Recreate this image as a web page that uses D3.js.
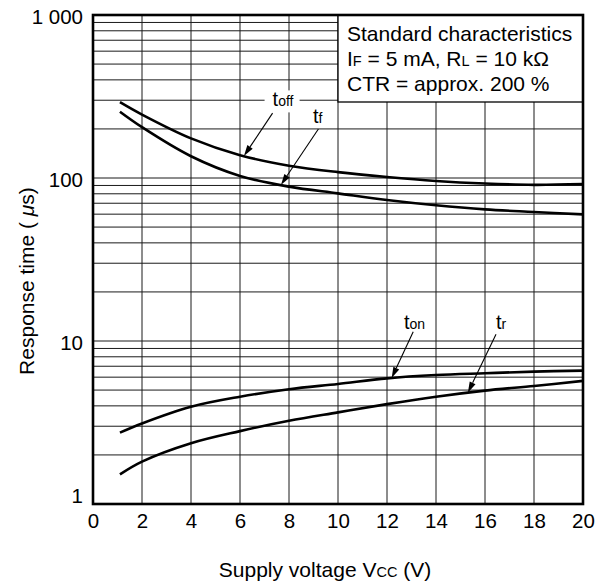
<!DOCTYPE html>
<html>
<head>
<meta charset="utf-8">
<script src="https://cdn.jsdelivr.net/npm/d3@7"></script>
<style>
    body { margin: 0; background: #ffffff; }
    svg { font-family: "Liberation Sans", Arial, sans-serif; }
</style>
</head>
<body>
<svg id="response-chart" width="605" height="585"></svg>
<script>
// supply voltage (V) and response times (us)
const vcc = [1.1, 2, 4, 6, 8, 10, 12, 14, 16, 18, 20];
const tOff = [292, 245, 175, 138, 119, 108.6, 101.4, 95.9, 92.5, 90.8, 91.8];
const tF = [255, 205, 136, 103, 88.5, 80.5, 73.3, 68, 64.2, 61.9, 59.8];
const tOn = [2.74, 3.12, 3.95, 4.55, 5.06, 5.45, 5.9, 6.18, 6.34, 6.49, 6.58];
const tR = [1.52, 1.82, 2.36, 2.80, 3.24, 3.65, 4.10, 4.55, 4.96, 5.30, 5.69];

const xTicks = [0, 2, 4, 6, 8, 10, 12, 14, 16, 18, 20];
const yTicks = [1, 10, 100, 1000];
const yTickLabels = ["1", "10", "100", "1 000"];

// curve labels: subscript, label position, arrow tail, x where the arrow hits the curve
const labelSubs = ["off", "f", "on", "r"];
const labelX = [7.33, 8.98, 12.69, 16.45];
const labelY = [275, 219, 11.9, 11.9];
const arrowFromX = [7.33, 9.2, 13.07, 16.45];
const arrowFromY = [250, 200, 11.4, 11.0];
const arrowToX = [6.16, 7.67, 12.19, 15.3];

const legendLines = ["Standard characteristics", "I|F| = 5 mA, R|L| = 10 kΩ", "CTR = approx. 200 %"];

const drawChart = function (svg) {
    let margin = {top: 15, bottom: 81, left: 93, right: 22};
    let width = +svg.attr("width");
    let height = +svg.attr("height");
    let x0 = margin.left, x1 = width - margin.right;
    let y0 = height - margin.bottom, y1 = margin.top;

    let xScale = d3.scaleLinear().domain([0, 20]).range([x0, x1]);
    let yScale = d3.scaleLog().domain([1, 1000]).range([y0, y1]);

    // gridlines
    let grid = svg.append("g").attr("stroke", "#1a1a1a").attr("stroke-width", 1);
    xTicks.slice(1, -1).forEach(t => {
        grid.append("line")
            .attr("x1", xScale(t)).attr("x2", xScale(t))
            .attr("y1", y0).attr("y2", y1);
    });
    yScale.ticks().filter(t => t > 1 && t < 1000).forEach(t => {
        grid.append("line")
            .attr("x1", x0).attr("x2", x1)
            .attr("y1", yScale(t)).attr("y2", yScale(t));
    });

    // legend box covers the grid in the top right
    svg.append("rect")
        .attr("x", xScale(10)).attr("y", y1)
        .attr("width", xScale(20) - xScale(10))
        .attr("height", 87)
        .attr("fill", "#ffffff").attr("stroke", "#000").attr("stroke-width", 1.3);

    legendLines.forEach((line, i) => {
        let txt = svg.append("text")
            .attr("x", xScale(10) + 9)
            .attr("y", y1 + 25.7 + i * 25)
            .style("font-size", "21px");
        line.split("|").forEach((part, j) => {
            txt.append("tspan").style("font-size", j % 2 ? "14.5px" : "21px").text(part);
        });
    });

    // curves
    let line = d3.line()
        .x(d => xScale(d[0]))
        .y(d => yScale(d[1]))
        .curve(d3.curveCatmullRom.alpha(0.5));
    [tOff, tF, tOn, tR].forEach(series => {
        svg.append("path")
            .datum(vcc.map((v, i) => [v, series[i]]))
            .attr("d", line)
            .attr("fill", "none")
            .attr("stroke", "#000")
            .attr("stroke-width", 2.6);
    });

    // value on a curve at x, interpolated in log space
    let valueAt = function (series, xv) {
        let i = d3.bisectRight(vcc, xv) - 1;
        i = Math.max(0, Math.min(i, vcc.length - 2));
        let f = (xv - vcc[i]) / (vcc[i + 1] - vcc[i]);
        return Math.pow(10, Math.log10(series[i]) * (1 - f) + Math.log10(series[i + 1]) * f);
    };

    [tOff, tF, tOn, tR].forEach((series, i) => {
        let lx = xScale(labelX[i]), ly = yScale(labelY[i]);
        if (i === 0) {
            svg.append("rect")
                .attr("x", lx - 8).attr("y", ly - 16)
                .attr("width", 35).attr("height", 22)
                .attr("fill", "#ffffff");
        }
        let txt = svg.append("text").attr("x", lx).attr("y", ly).style("font-size", "20px");
        txt.append("tspan").text("t");
        txt.append("tspan").style("font-size", "14px").text(labelSubs[i]);

        let ax = xScale(arrowFromX[i]), ay = yScale(arrowFromY[i]);
        let bx = xScale(arrowToX[i]), by = yScale(valueAt(series, arrowToX[i]));
        let ang = Math.atan2(by - ay, bx - ax);
        let len = 11, half = 3.2;
        let baseX = bx - len * Math.cos(ang), baseY = by - len * Math.sin(ang);
        svg.append("line")
            .attr("x1", ax).attr("y1", ay).attr("x2", baseX).attr("y2", baseY)
            .attr("stroke", "#000").attr("stroke-width", 1.1);
        svg.append("path")
            .attr("d", `M${bx},${by}L${baseX - half * Math.sin(ang)},${baseY + half * Math.cos(ang)}L${baseX + half * Math.sin(ang)},${baseY - half * Math.cos(ang)}Z`)
            .attr("fill", "#000");
    });

    // frame
    svg.append("rect")
        .attr("x", x0).attr("y", y1)
        .attr("width", x1 - x0).attr("height", y0 - y1)
        .attr("fill", "none").attr("stroke", "#000").attr("stroke-width", 2.6);

    // axes
    let bottomAxis = d3.axisBottom(xScale).tickValues(xTicks).tickSize(0).tickPadding(9.5);
    svg.append("g")
        .attr("transform", `translate(0, ${y0})`)
        .call(bottomAxis)
        .call(g => g.select(".domain").remove())
        .selectAll("text")
        .style("font-size", "20.5px").style("font-family", "inherit").attr("fill", "#000");

    let leftAxis = d3.axisLeft(yScale).tickValues(yTicks).tickSize(0).tickPadding(10)
        .tickFormat((d, i) => yTickLabels[i]);
    svg.append("g")
        .attr("transform", `translate(${x0}, 0)`)
        .call(leftAxis)
        .call(g => g.select(".domain").remove())
        .selectAll("text")
        .style("font-size", "20.5px").style("font-family", "inherit").attr("fill", "#000")
        .attr("dy", d => d === 1 ? "-0.05em" : "0.4em");

    // axis titles
    let xTitle = svg.append("text")
        .attr("x", 325).attr("y", 577)
        .attr("text-anchor", "middle")
        .style("font-size", "21px");
    xTitle.append("tspan").text("Supply voltage V");
    xTitle.append("tspan").style("font-size", "14.5px").text("CC");
    xTitle.append("tspan").text(" (V)");

    let yTitle = svg.append("text")
        .attr("transform", `translate(34, 281) rotate(-90)`)
        .attr("text-anchor", "middle")
        .style("font-size", "21px");
    yTitle.append("tspan").text("Response time ( ");
    yTitle.append("tspan").style("font-style", "italic").text("μ");
    yTitle.append("tspan").text("s)");
};

drawChart(d3.select("svg#response-chart"));
</script>
</body>
</html>
